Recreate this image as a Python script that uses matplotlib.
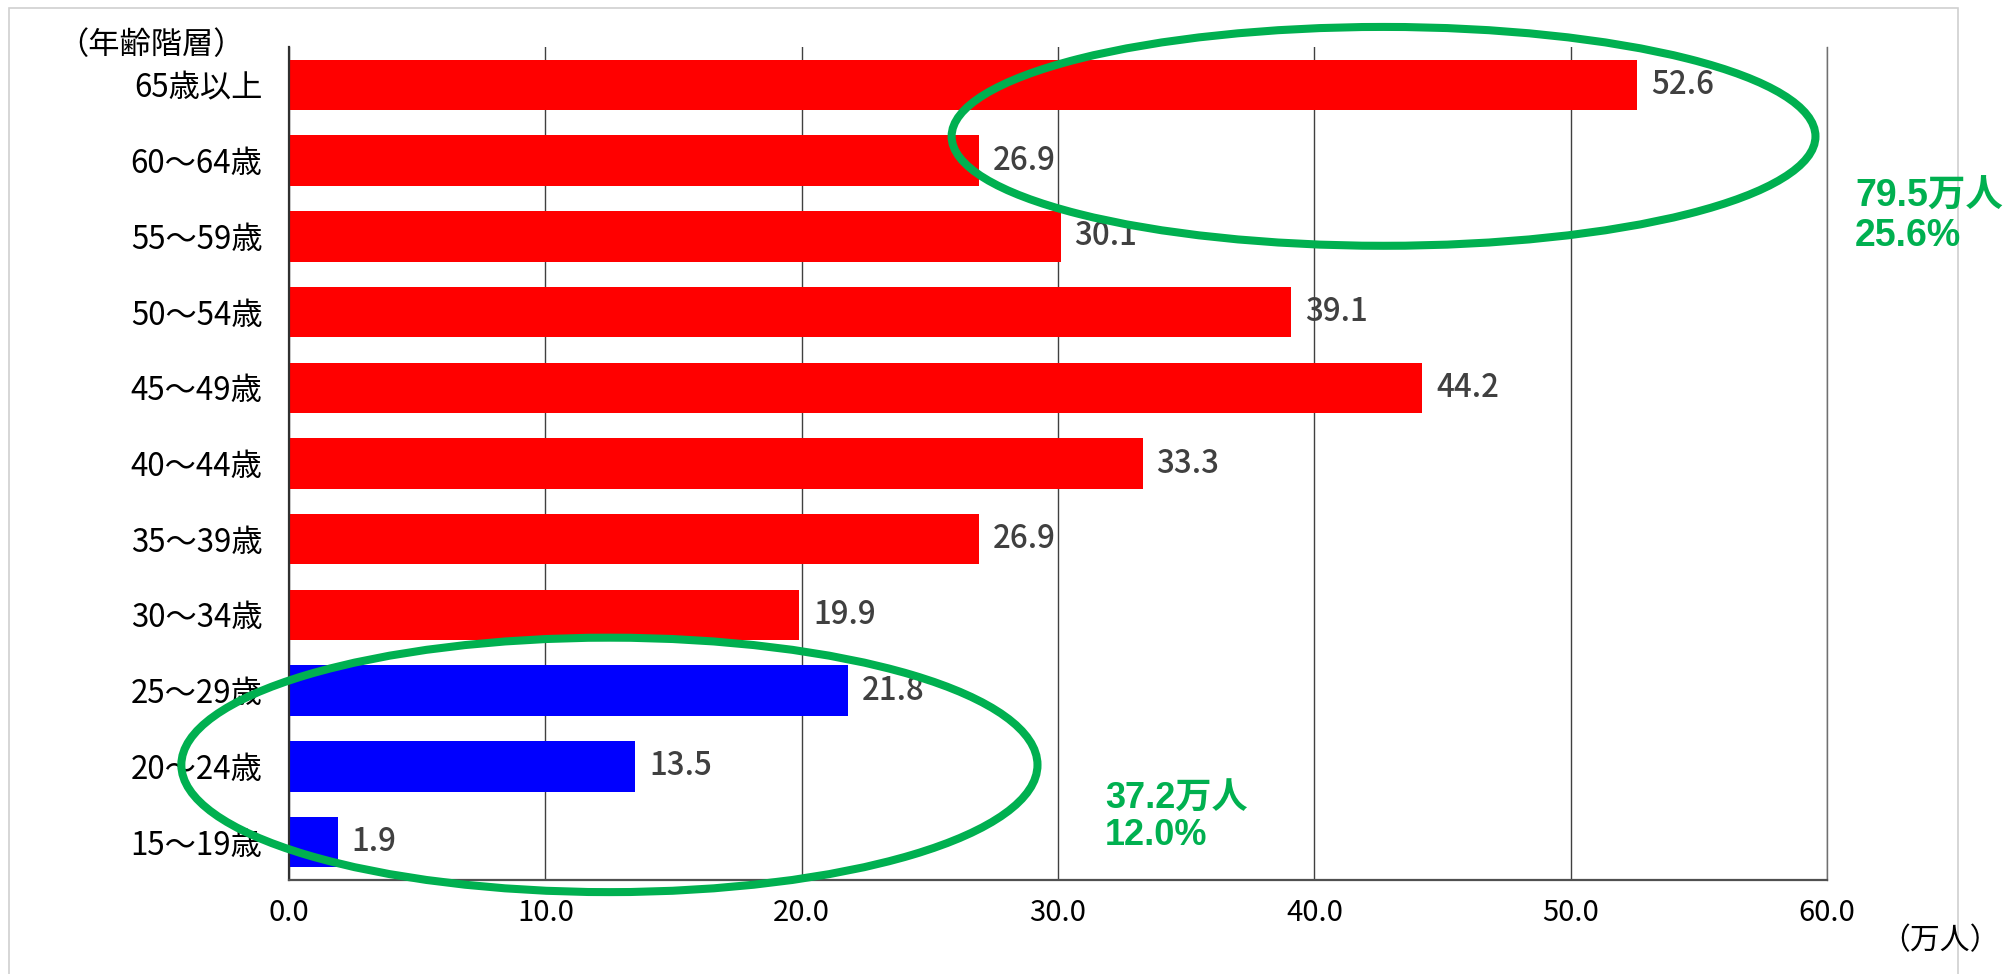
import matplotlib
matplotlib.use("Agg")
import matplotlib.pyplot as plt
from matplotlib.patches import Ellipse, Rectangle
import numpy as np

plt.rcParams['font.family'] = ['Noto Sans CJK JP', 'DejaVu Sans']

# data (top to bottom)
age_groups = ["65歳以上", "60～64歳", "55～59歳", "50～54歳", "45～49歳", "40～44歳",
              "35～39歳", "30～34歳", "25～29歳", "20～24歳", "15～19歳"]
values = [52.6, 26.9, 30.1, 39.1, 44.2, 33.3, 26.9, 19.9, 21.8, 13.5, 1.9]
young = [False] * 8 + [True] * 3
x_ticks = [0, 10, 20, 30, 40, 50, 60]

# notes beside the circled groups
upper_note = "79.5万人\n25.6%"
lower_note = "37.2万人\n12.0%"

W, H = 2006, 974
fig = plt.figure(figsize=(W / 100, H / 100), dpi=100)
ax = fig.add_axes([289 / W, (H - 880) / H, (1827 - 289) / W, (880 - 47) / H])

y = np.arange(len(age_groups))
colors = ["#0000FF" if yy else "#FF0000" for yy in young]
ax.barh(y, values, height=0.667, color=colors, zorder=2)

for yi, v in zip(y, values):
    ax.annotate(f"{v:.1f}", (v, yi), xytext=(10, 0), textcoords="offset points",
                ha="left", va="center", fontsize=22.5, fontweight="medium",
                color="#404040")

ax.set_xlim(0, 60)
ax.set_ylim(len(age_groups) - 0.5, -0.5)
ax.set_xticks(x_ticks)
ax.set_xticklabels([f"{t:.1f}" for t in x_ticks])
ax.set_yticks(y)
ax.set_yticklabels(age_groups)
ax.tick_params(axis="both", length=0, colors="black")
ax.tick_params(axis="y", pad=19, labelsize=22.5)
ax.tick_params(axis="x", pad=13, labelsize=21)

ax.grid(axis="x", color="#404040", linewidth=1, zorder=1)
ax.set_axisbelow(True)
ax.spines["top"].set_visible(False)
ax.spines["right"].set_color("#707070")
ax.spines["right"].set_linewidth(1)
ax.spines["left"].set_color("#303030")
ax.spines["left"].set_linewidth(1.6)
ax.spines["bottom"].set_color("#505050")
ax.spines["bottom"].set_linewidth(1.6)

# green ellipses round the two groups
green = "#00B050"
ax.add_patch(Ellipse((42.7, 0.68), 33.7, 2.89, fill=False, edgecolor=green,
                     linewidth=5.8, clip_on=False, zorder=5))
ax.add_patch(Ellipse((12.5, 8.98), 33.4, 3.36, fill=False, edgecolor=green,
                     linewidth=5.8, clip_on=False, zorder=5))

fig.text(1855 / W, 1 - 179 / H, upper_note, ha="left", va="top", fontsize=27,
         fontweight="bold", color=green, linespacing=1.12,
         family=["Liberation Sans", "Noto Sans CJK JP"])
fig.text(1105 / W, 1 - 782 / H, lower_note, ha="left", va="top", fontsize=26,
         fontweight="bold", color=green, linespacing=1.02,
         family=["Liberation Sans", "Noto Sans CJK JP"])

fig.text(151 / W, 1 - 45 / H, "（年齢階層）", ha="center", va="center", fontsize=22.5)
fig.text(1940 / W, 1 - 941 / H, "（万人）", ha="center", va="center", fontsize=21.5)

# outer chart frame
fig.add_artist(Rectangle((9 / W, -0.05), (1958 - 9) / W, 1.05 - 8 / H,
                         transform=fig.transFigure, fill=False,
                         edgecolor="#d0d0d0", linewidth=1.2))

fig.savefig("out.png", dpi=100)
